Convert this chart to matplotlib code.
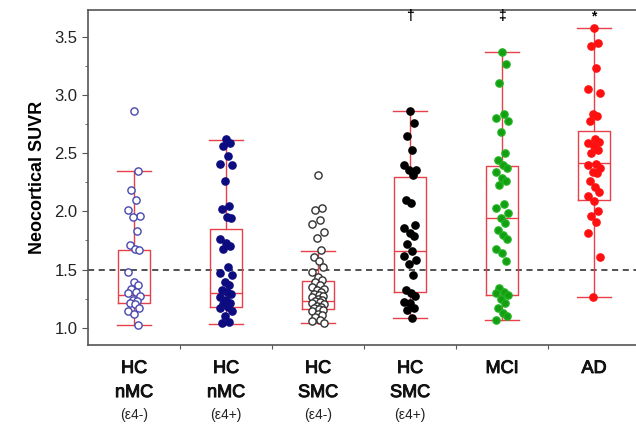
import matplotlib
matplotlib.use('Agg')
import matplotlib.pyplot as plt
import matplotlib.patheffects as pe
from matplotlib.ticker import MultipleLocator

plt.rcParams['font.family'] = ['Liberation Sans', 'DejaVu Sans']

# group names (line1, line2, line3)
groups = [('HC', 'nMC', '(ε4-)'), ('HC', 'nMC', '(ε4+)'), ('HC', 'SMC', '(ε4-)'),
          ('HC', 'SMC', '(ε4+)'), ('MCI', '', ''), ('AD', '', '')]

hc_nmc_neg = [2.86, 2.35, 2.18, 2.10, 2.01, 1.96, 1.95, 1.83, 1.71, 1.68, 1.67, 1.48, 1.39,
              1.37, 1.33, 1.31, 1.30, 1.27, 1.24, 1.23, 1.21, 1.20, 1.17, 1.14, 1.12, 1.02]
hc_nmc_pos = [2.62, 2.585, 2.565, 2.48, 2.41, 2.40, 2.26, 2.05, 2.02, 1.95, 1.94, 1.76, 1.73,
              1.70, 1.68, 1.52, 1.47, 1.45, 1.39, 1.37, 1.32, 1.31, 1.29, 1.26, 1.24, 1.21,
              1.20, 1.18, 1.17, 1.14, 1.10, 1.05, 1.04]
hc_smc_neg = [2.31, 2.03, 2.01, 1.93, 1.89, 1.82, 1.77, 1.67, 1.61, 1.57, 1.52, 1.48, 1.44,
              1.41, 1.39, 1.37, 1.35, 1.33, 1.32, 1.31, 1.29, 1.28, 1.27, 1.26, 1.25, 1.24,
              1.23, 1.22, 1.21, 1.20, 1.19, 1.18, 1.17, 1.16, 1.15, 1.14, 1.12, 1.11, 1.09,
              1.07, 1.06, 1.04]
hc_smc_pos = [2.86, 2.76, 2.65, 2.53, 2.40, 2.36, 2.36, 2.31, 2.10, 2.07, 1.88, 1.86, 1.81,
              1.79, 1.72, 1.66, 1.62, 1.58, 1.55, 1.45, 1.32, 1.30, 1.27, 1.22, 1.21, 1.17,
              1.15, 1.08]
mci = [3.37, 3.27, 3.10, 2.84, 2.80, 2.78, 2.68, 2.50, 2.44, 2.40, 2.37, 2.34, 2.29, 2.26,
       2.23, 2.06, 2.03, 1.99, 1.94, 1.90, 1.84, 1.80, 1.76, 1.68, 1.64, 1.57, 1.34, 1.31,
       1.30, 1.28, 1.25, 1.21, 1.17, 1.13, 1.10, 1.07]
ad = [3.58, 3.45, 3.42, 3.23, 3.05, 3.02, 2.84, 2.82, 2.78, 2.62, 2.60, 2.59, 2.56, 2.53,
      2.50, 2.41, 2.40, 2.37, 2.34, 2.33, 2.26, 2.21, 2.17, 2.13, 2.09, 2.00, 1.96, 1.91,
      1.81, 1.61, 1.26]
values = [hc_nmc_neg, hc_nmc_pos, hc_smc_neg, hc_smc_pos, mci, ad]

# box statistics
whis_lo = [1.02, 1.03, 1.04, 1.08, 1.07, 1.26]
q1 = [1.21, 1.18, 1.16, 1.31, 1.28, 2.10]
medians = [1.28, 1.30, 1.23, 1.66, 1.94, 2.42]
q3 = [1.67, 1.85, 1.40, 2.30, 2.39, 2.69]
whis_hi = [2.35, 2.61, 1.66, 2.86, 3.37, 3.58]

marks = ['', '', '', '†', '‡', '*']

face = ['white', '#0c0c80', 'white', 'black', '#12a012', '#ff1010']
edge = ['#4848b0', '#0c0c80', '#333333', 'black', '#20b020', '#ff1010']

fig = plt.figure(figsize=(6.36, 4.28), dpi=100)
ax = fig.add_axes([88 / 636, 83 / 428, 552 / 636, 335 / 428])

stats = []
for i in range(len(values)):
    stats.append({'whislo': whis_lo[i], 'q1': q1[i], 'med': medians[i],
                  'q3': q3[i], 'whishi': whis_hi[i], 'fliers': []})
boxc = '#e8404a'
ax.bxp(stats, positions=range(6), widths=0.35, showfliers=False,
       boxprops=dict(color=boxc, lw=1), whiskerprops=dict(color=boxc, lw=1),
       capprops=dict(color=boxc, lw=1), medianprops=dict(color=boxc, lw=1),
       capwidths=0.36, zorder=2)

jit = [0.0, 0.04, -0.03, 0.02, -0.06, 0.07, -0.01, 0.03, -0.04, 0.01, 0.05, -0.07]
for i, vals in enumerate(values):
    xs = [i + jit[k % len(jit)] for k in range(len(vals))]
    ax.plot(xs, vals, 'o', ms=5.2, mfc=face[i], mec=edge[i], mew=1.0, zorder=3, ls='none')

ax.axhline(1.5, color='#222222', ls=(0, (4, 3)), lw=1.1, zorder=1)

for i, m in enumerate(marks):
    if m:
        ax.text(i, 3.68, m, ha='center', va='center', fontsize=10, color='black',
                fontweight='bold')

ax.set_xlim(-0.5, 5.5)
ax.set_ylim(0.851, 3.732)
ax.set_yticks([1.0, 1.5, 2.0, 2.5, 3.0, 3.5])
ax.set_yticklabels(['1.0', '1.5', '2.0', '2.5', '3.0', '3.5'])
ax.yaxis.set_minor_locator(MultipleLocator(0.25))
ax.set_xticks([0.5, 1.5, 2.5, 3.5, 4.5])
ax.set_xticklabels([])
ax.tick_params(axis='y', labelsize=12, colors='#555555', labelcolor='#222222', length=4)
ax.tick_params(axis='y', which='minor', length=2.5, colors='#555555')
ax.tick_params(axis='x', length=3, colors='#555555')
for s in ax.spines.values():
    s.set_color('#555555')
    s.set_linewidth(1.2)
ax.spines['right'].set_visible(False)

ax.set_ylabel('Neocortical SUVR', fontsize=13, fontweight='bold', labelpad=6)

# medium-weight look for the group labels
thick = [pe.withStroke(linewidth=0.7, foreground='#111111')]
for i, (a, b, c) in enumerate(groups):
    ax.text(i, -0.07, a, transform=ax.get_xaxis_transform(), ha='center', va='center',
            fontsize=13, color='#111111', path_effects=thick)
    if b:
        ax.text(i, -0.142, b, transform=ax.get_xaxis_transform(), ha='center', va='center',
                fontsize=13, color='#111111', path_effects=thick)
    if c:
        ax.text(i, -0.21, c, transform=ax.get_xaxis_transform(), ha='center', va='center',
                fontsize=10, color='#222222')

fig.savefig('out.png', dpi=100)
